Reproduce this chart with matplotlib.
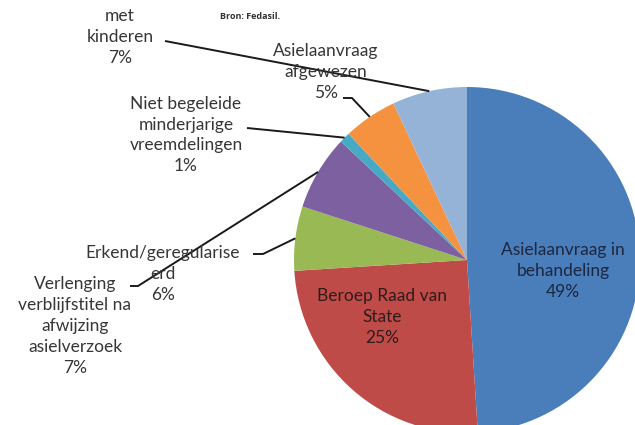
import matplotlib
matplotlib.use("Agg")
import matplotlib.pyplot as plt
import numpy as np

categories = ["Asielaanvraag in\nbehandeling", "Beroep Raad van\nState", "Erkend/geregularise\nerd",
              "Verlenging\nverblijfstitel na\nafwijzing\nasielverzoek", "Niet begeleide\nminderjarige\nvreemdelingen",
              "Asielaanvraag\nafgewezen", "met\nkinderen"]
values = [49, 25, 6, 7, 1, 5, 7]
colors = ["#4A7EBB", "#BE4B48", "#98B954", "#7D60A0", "#46AAC5", "#F59240", "#95B3D7"]

W, H = 635, 425
fig = plt.figure(figsize=(W / 100, H / 100), dpi=100)
ax = fig.add_axes([0, 0, 1, 1])

cx, cy, r = 467, H - 260, 173
wedges, _ = ax.pie(values, colors=colors, startangle=90, counterclock=False,
                   center=(cx, cy), radius=r, frame=True,
                   wedgeprops=dict(linewidth=0))
ax.set_xlim(0, W)
ax.set_ylim(0, H)
ax.set_aspect("equal")
ax.axis("off")

font = "Lato"
fs = 12.5
ls = 1.38
txtc = "#363636"

def P(x, y):
    return x, H - y

def edge(i, frac=1.0):
    w = wedges[i]
    t = np.deg2rad((w.theta1 + w.theta2) / 2)
    return cx + r * frac * np.cos(t), cy + r * frac * np.sin(t)

def lbl(i, x, y, color=txtc):
    ax.text(*P(x, y), f"{categories[i]}\n{values[i]}%", ha="center", va="center",
            fontsize=fs, family=font, color=color, linespacing=ls)

# inside labels
lbl(0, 563, 271, "#1c2740")
lbl(1, 382, 317, "#2e1c1c")

# outside labels
lbl(6, 120, 37)
lbl(5, 326, 72)
lbl(4, 186, 135)
lbl(2, 163, 274)
lbl(3, 75, 326)

def leader(i, pts):
    xs = [P(*p)[0] for p in pts]
    ys = [P(*p)[1] for p in pts]
    ex, ey = edge(i)
    xs.append(ex); ys.append(ey)
    ax.plot(xs, ys, color="#1a1a1a", lw=1.4, solid_capstyle="butt")

leader(6, [(165, 41)])
leader(5, [(343, 98), (352, 98)])
leader(4, [(247, 128)])
leader(2, [(253, 254), (263, 254)])
leader(3, [(130, 286), (138, 286)])

ax.text(*P(220, 16), "Bron: Fedasil.", fontsize=6.5, fontweight="bold",
        family="Open Sans", color="#333333", ha="left", va="center")

fig.savefig("out.png", dpi=100)
